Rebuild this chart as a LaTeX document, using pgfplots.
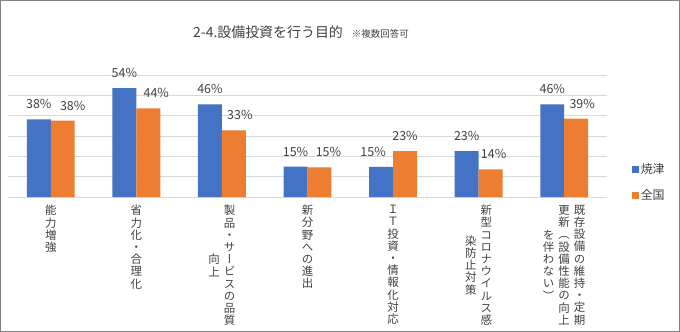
\documentclass[border=0pt]{standalone}
\usepackage{fontspec}
\setmainfont{Noto Sans CJK JP}
\newfontfamily\vfont{Noto Sans CJK JP}[RawFeature={+vert}]
\usepackage{pgfplots}
\usepackage{pgfplotstable}
\pgfplotsset{compat=1.18}
\definecolor{cblue}{HTML}{4472C4}
\definecolor{corange}{HTML}{ED7D31}
\definecolor{cgrid}{HTML}{D9D9D9}
\definecolor{ctext}{HTML}{404040}
\makeatletter
\protected\def\vcol#1{\ensuremath{\vcenter{\baselineskip=12.2bp\lineskiplimit=-20bp\lineskip=0pt\@tfor\x:=#1\do{\hbox to 12bp{\hss\vfont\x\hss}}}}}
\makeatother

\pgfplotstableread{
x y lbl dx
0 38.2 38 0
1 53.6 54 0
2 45.6 46 0
3 14.9 15 0
4 14.8 15 -8
5 22.6 23 0
6 45.6 46 0
}\yaizu
\pgfplotstableread{
x y lbl dx
0 37.6 38 10
1 43.6 44 8
2 32.8 33 6
3 14.6 15 9
4 22.6 23 0
5 13.6 14 3
6 38.6 39 6
}\zenkoku

\begin{document}
\begin{tikzpicture}
\begin{axis}[
  anchor=south west,
  scale only axis, width=599bp, height=122bp,
  ymin=0, ymax=60, ytick={0,10,...,60}, yticklabels={},
  xmin=-0.5, xmax=6.5, xtick={0,...,6},
  ymajorgrids, grid style={cgrid, line width=0.9bp},
  axis line style={draw=none},
  major tick length=0pt,
  ybar=0pt, bar width=0.28,
  xticklabels={
    {\vcol{能力増強}},
    {\vcol{省力化・合理化}},
    {\vcol{向上}\kern3.5bp\vcol{製品・サービスの品質}},
    {\vcol{新分野への進出}},
    {\vcol{ＩＴ投資・情報化対応}},
    {\vcol{染防止対策}\kern3.5bp\vcol{新型コロナウイルス感}},
    {\vcol{を伴わない）}\kern3.5bp\vcol{更新（設備性能の向上}\kern3.5bp\vcol{既存設備の維持・定期}}
  },
  xticklabel style={anchor=north, inner sep=0pt, yshift=-8bp, text=ctext, font=\fontsize{11.5}{12}\selectfont},
  point meta=explicit symbolic,
  nodes near coords={\pgfplotspointmeta\%},
  visualization depends on={\thisrow{dx} \as \dx},
  every node near coord/.append style={anchor=south, inner sep=0pt, yshift=10bp, xshift={\dx*1pt}, text=ctext, font=\fontsize{12.5}{13}\selectfont},
  legend style={at={(1.041,0.12)}, anchor=west, draw=none, fill=none, row sep=10bp, text=ctext, font=\fontsize{12}{12}\selectfont, inner sep=0pt},
  legend cell align=left,
  legend image code/.code={\fill[#1] (2bp,-3.5bp) rectangle (9bp,3.5bp);},
]
\addplot[fill=cblue, draw=none] table[x=x, y=y, meta=lbl] {\yaizu};
\addplot[fill=corange, draw=none] table[x=x, y=y, meta=lbl] {\zenkoku};
\legend{焼津,全国}
\end{axis}
\pgfresetboundingbox
\path[use as bounding box] ([shift={(-8bp,-135bp)}]current axis.south west) rectangle ([shift={(672bp,197bp)}]current axis.south west);
\draw[line width=1.2bp, color=black!50] ([shift={(-7.4bp,-134.4bp)}]current axis.south west) rectangle ([shift={(671.4bp,196.4bp)}]current axis.south west);
\node[anchor=west, text=ctext, inner sep=0pt] at ([shift={(185bp,165bp)}]current axis.south west) {\fontsize{14}{14}\selectfont 2-4.設備投資を行う目的\hspace{9bp}\fontsize{9.5}{10}\selectfont ※複数回答可};
\end{tikzpicture}
\end{document}
